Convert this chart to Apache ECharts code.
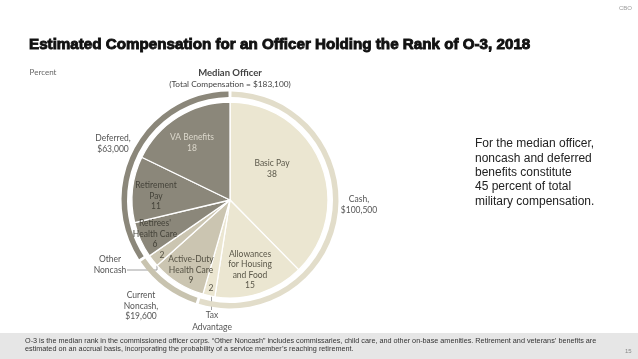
<!DOCTYPE html>
<html><head><meta charset="utf-8">
<script src="https://cdn.jsdelivr.net/npm/echarts@6/dist/echarts.min.js"></script>
<style>html,body{margin:0;padding:0;background:#fff}#c{width:638px;height:359px}</style>
</head><body><div id="c"></div>
<script>
// ---- data ----
const categories = ['Basic Pay', 'Allowances for Housing and Food', 'Tax Advantage', 'Active-Duty Health Care', 'Other Noncash', "Retirees' Health Care", 'Retirement Pay', 'VA Benefits'];
const insideNames = ['Basic Pay', 'Allowances\nfor Housing\nand Food', '', 'Active-Duty\nHealth Care', '', "Retirees'\nHealth Care", 'Retirement\nPay', 'VA Benefits'];
const percents = [38, 15, 2, 9, 2, 6, 11, 18];
const categoryGroup = [0, 0, 0, 1, 1, 2, 2, 2];
const groupNames = ['Cash', 'Current\nNoncash', 'Deferred'];
const groupDollars = [100500, 19600, 63000];
const totalComp = 183100;

// ---- styles / layout (not data) ----
const groupColors = ['#ebe6d1', '#cbc5b1', '#8b877a'];
const ringColors = ['#e2ddca', '#c8c3af', '#8b877a'];
const insideTextColor = ['#5a5749', '#5a5749', '#5a5749', '#555244', '#555244', '#45433a', '#45433a', '#dcd8cc'];
const insideLabelPos = [[272, 169], [250, 270], [211, 288], [191, 270], [162, 255], [155, 234], [156, 196], [192, 143]];
const ringLabelPos = [[359, 205], [141, 306], [113, 144]];
const fmt = v => '$' + v.toLocaleString('en-US');
const font = 'Lato, "Open Sans", sans-serif';

const chart = echarts.init(document.getElementById('c'), null, {renderer: 'canvas'});
const center = [230, 200];

chart.setOption({
  animation: false,
  backgroundColor: '#ffffff',
  title: {
    text: 'Estimated Compensation for an Officer Holding the Rank of O-3, 2018',
    left: 24, top: 32,
    textStyle: {fontFamily: '"Liberation Sans", Arial, sans-serif', fontWeight: 'bold', fontSize: 15.2, color: '#111', textBorderColor: '#111', textBorderWidth: 0.9}
  },
  graphic: [
    {type: 'rect', shape: {x: 0, y: 333, width: 638, height: 26}, style: {fill: '#e6e6e6'}, z: -1},
    {type: 'text', left: 619, top: 5, style: {text: 'CBO', fontSize: 6, fill: '#9a9a9a', fontFamily: 'Arial'}},
    {type: 'text', left: 625, top: 348, style: {text: '15', fontSize: 6, fill: '#888', fontFamily: 'Arial'}},
    {type: 'text', left: 25, top: 337, style: {text: 'O-3 is the median rank in the commissioned officer corps. “Other Noncash” includes commissaries, child care, and other on-base amenities. Retirement and veterans’ benefits are\nestimated on an accrual basis, incorporating the probability of a service member’s reaching retirement.', fontSize: 7.25, lineHeight: 8.3, fill: '#333', fontFamily: '"Liberation Sans", Arial'}},
    {type: 'text', left: 475, top: 137, style: {text: 'For the median officer,\nnoncash and deferred\nbenefits constitute\n45 percent of total\nmilitary compensation.', fontSize: 12, lineHeight: 14.3, fill: '#222', fontFamily: '"Liberation Sans", Arial'}},
    {type: 'text', x: 43, y: 72, style: {text: 'Percent', fontSize: 8, fill: '#666', fontFamily: font, align: 'center', verticalAlign: 'middle'}},
    {type: 'text', x: 230, y: 73, style: {text: 'Median Officer', fontSize: 9.5, fontWeight: 'bold', fill: '#444', fontFamily: font, align: 'center', verticalAlign: 'middle'}},
    {type: 'text', x: 230, y: 84, style: {text: '(Total Compensation = ' + fmt(totalComp) + ')', fontSize: 8.3, fill: '#444', fontFamily: font, align: 'center', verticalAlign: 'middle'}},
    {type: 'text', x: 110, y: 265, style: {text: 'Other\nNoncash', fontSize: 8.5, lineHeight: 10.5, fill: '#555', fontFamily: font, align: 'center', verticalAlign: 'middle'}},
    {type: 'polyline', shape: {points: [[127, 270], [157, 270], [157, 262]]}, style: {stroke: '#888', lineWidth: 0.8, fill: null}},
    {type: 'text', x: 212, y: 321, style: {text: 'Tax\nAdvantage', fontSize: 8.5, lineHeight: 12, fill: '#555', fontFamily: font, align: 'center', verticalAlign: 'middle'}},
    {type: 'line', shape: {x1: 211.5, y1: 293, x2: 211.5, y2: 310}, style: {stroke: '#888', lineWidth: 0.8}}
  ],
  series: [
    {
      type: 'pie', center: center, radius: [0, 98], startAngle: 90, clockwise: true, silent: true,
      itemStyle: {borderColor: '#fff', borderWidth: 1.3},
      label: {
        show: true, position: 'inside', fontFamily: font, fontSize: 8.5, lineHeight: 10.5,
        formatter: p => (insideNames[p.dataIndex] ? insideNames[p.dataIndex] + '\n' : '') + p.value
      },
      labelLine: {show: false},
      labelLayout: p => ({x: insideLabelPos[p.dataIndex][0], y: insideLabelPos[p.dataIndex][1], align: 'center', verticalAlign: 'middle'}),
      data: categories.map((c, i) => ({
        name: c, value: percents[i],
        itemStyle: {color: groupColors[categoryGroup[i]]},
        label: {color: insideTextColor[i]}
      }))
    },
    {
      type: 'pie', center: center, radius: [103, 108.5], startAngle: 90, clockwise: true, silent: true,
      padAngle: 1.6,
      itemStyle: {borderWidth: 0},
      label: {
        show: true, position: 'outside', fontFamily: font, fontSize: 8.5, lineHeight: 10.5, color: '#555',
        formatter: p => groupNames[p.dataIndex] + ',\n' + fmt(p.value)
      },
      labelLine: {show: false},
      labelLayout: p => ({x: ringLabelPos[p.dataIndex][0], y: ringLabelPos[p.dataIndex][1], align: 'center', verticalAlign: 'middle'}),
      data: groupNames.map((g, i) => ({name: g, value: groupDollars[i], itemStyle: {color: ringColors[i]}}))
    }
  ]
});
</script>
</body></html>
